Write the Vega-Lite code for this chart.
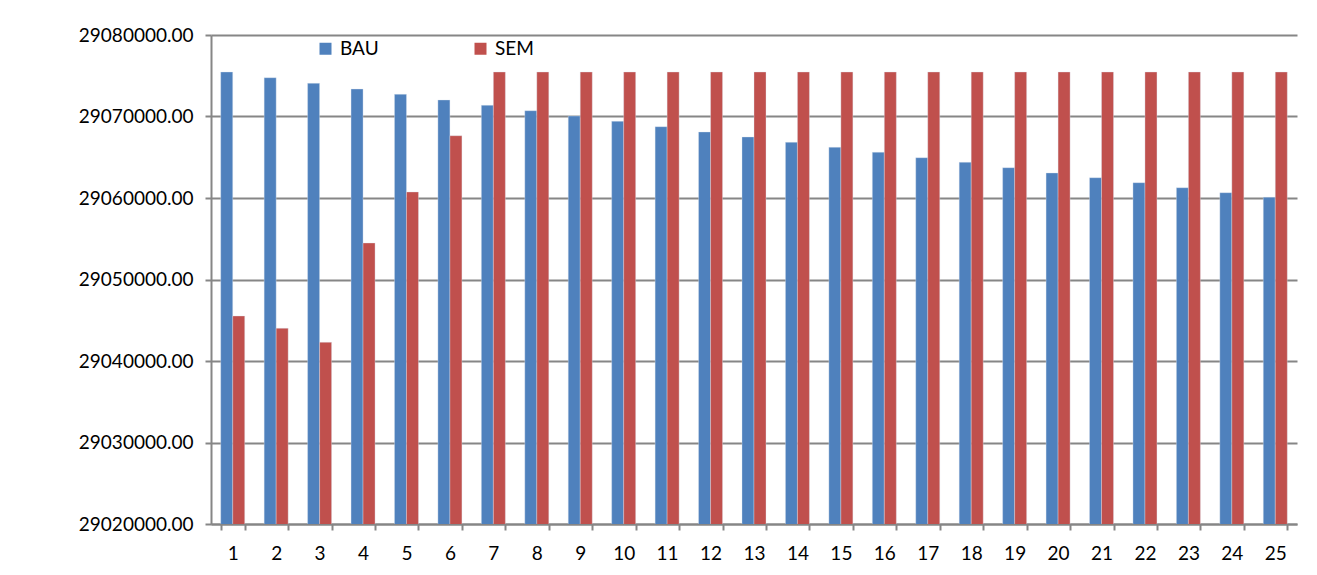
{
  "$schema": "https://vega.github.io/schema/vega-lite/v6.json",
  "autosize": "none",
  "width": 1086,
  "height": 489,
  "padding": {"left": 211, "top": 35, "right": 20, "bottom": 51},
  "background": "white",
  "config": {
    "font": "Lato",
    "view": {"stroke": null},
    "axis": {"labelFont": "Lato", "labelColor": "black"},
    "legend": {"labelFont": "Lato"}
  },
  "data": {
    "values": [
      {"period": 1, "scenario": "BAU", "value": 29075460}, {"period": 1, "scenario": "SEM", "value": 29045520},
      {"period": 2, "scenario": "BAU", "value": 29074760}, {"period": 2, "scenario": "SEM", "value": 29044010},
      {"period": 3, "scenario": "BAU", "value": 29074070}, {"period": 3, "scenario": "SEM", "value": 29042290},
      {"period": 4, "scenario": "BAU", "value": 29073370}, {"period": 4, "scenario": "SEM", "value": 29054480},
      {"period": 5, "scenario": "BAU", "value": 29072720}, {"period": 5, "scenario": "SEM", "value": 29060740},
      {"period": 6, "scenario": "BAU", "value": 29072025}, {"period": 6, "scenario": "SEM", "value": 29067640},
      {"period": 7, "scenario": "BAU", "value": 29071370}, {"period": 7, "scenario": "SEM", "value": 29075460},
      {"period": 8, "scenario": "BAU", "value": 29070710}, {"period": 8, "scenario": "SEM", "value": 29075460},
      {"period": 9, "scenario": "BAU", "value": 29070060}, {"period": 9, "scenario": "SEM", "value": 29075460},
      {"period": 10, "scenario": "BAU", "value": 29069410}, {"period": 10, "scenario": "SEM", "value": 29075460},
      {"period": 11, "scenario": "BAU", "value": 29068750}, {"period": 11, "scenario": "SEM", "value": 29075460},
      {"period": 12, "scenario": "BAU", "value": 29068100}, {"period": 12, "scenario": "SEM", "value": 29075460},
      {"period": 13, "scenario": "BAU", "value": 29067485}, {"period": 13, "scenario": "SEM", "value": 29075460},
      {"period": 14, "scenario": "BAU", "value": 29066830}, {"period": 14, "scenario": "SEM", "value": 29075460},
      {"period": 15, "scenario": "BAU", "value": 29066220}, {"period": 15, "scenario": "SEM", "value": 29075460},
      {"period": 16, "scenario": "BAU", "value": 29065610}, {"period": 16, "scenario": "SEM", "value": 29075460},
      {"period": 17, "scenario": "BAU", "value": 29064945}, {"period": 17, "scenario": "SEM", "value": 29075460},
      {"period": 18, "scenario": "BAU", "value": 29064380}, {"period": 18, "scenario": "SEM", "value": 29075460},
      {"period": 19, "scenario": "BAU", "value": 29063720}, {"period": 19, "scenario": "SEM", "value": 29075460},
      {"period": 20, "scenario": "BAU", "value": 29063070}, {"period": 20, "scenario": "SEM", "value": 29075460},
      {"period": 21, "scenario": "BAU", "value": 29062490}, {"period": 21, "scenario": "SEM", "value": 29075460},
      {"period": 22, "scenario": "BAU", "value": 29061880}, {"period": 22, "scenario": "SEM", "value": 29075460},
      {"period": 23, "scenario": "BAU", "value": 29061260}, {"period": 23, "scenario": "SEM", "value": 29075460},
      {"period": 24, "scenario": "BAU", "value": 29060650}, {"period": 24, "scenario": "SEM", "value": 29075460},
      {"period": 25, "scenario": "BAU", "value": 29060090}, {"period": 25, "scenario": "SEM", "value": 29075460}
    ]
  },
  "mark": {"type": "bar", "clip": true, "stroke": "#dce6f2", "strokeWidth": 0.6, "strokeOpacity": 0.6},
  "encoding": {
    "x": {
      "field": "period",
      "type": "ordinal",
      "title": null,
      "scale": {"paddingInner": 0.4474, "paddingOuter": 0.2237},
      "axis": {
        "labelAngle": 0,
        "labelFontSize": 19,
        "labelPadding": 14,
        "tickBand": "extent",
        "tickSize": 6,
        "tickColor": "#868686",
        "tickWidth": 2,
        "domainColor": "#868686",
        "domainWidth": 2,
        "grid": false
      }
    },
    "xOffset": {"field": "scenario", "type": "nominal", "sort": ["BAU", "SEM"]},
    "y": {
      "field": "value",
      "type": "quantitative",
      "title": null,
      "scale": {"domain": [29020000, 29080000], "zero": false, "nice": false},
      "axis": {
        "values": [29020000, 29030000, 29040000, 29050000, 29060000, 29070000, 29080000],
        "format": ".2f",
        "labelFontSize": 19,
        "labelPadding": 12,
        "tickSize": 6,
        "tickColor": "#868686",
        "tickWidth": 2,
        "domainColor": "#868686",
        "domainWidth": 2,
        "grid": true,
        "gridColor": "#868686",
        "gridWidth": 2
      }
    },
    "color": {
      "field": "scenario",
      "type": "nominal",
      "sort": ["BAU", "SEM"],
      "scale": {"domain": ["BAU", "SEM"], "range": ["#4f81bd", "#c0504d"]},
      "legend": {
        "title": null,
        "orient": "none",
        "direction": "horizontal",
        "legendX": 105,
        "legendY": 4,
        "symbolType": "square",
        "symbolSize": 144,
        "symbolStrokeWidth": 0,
        "labelFontSize": 19,
        "labelOffset": 5,
        "columnPadding": 92,
        "labelColor": "black"
      }
    }
  }
}
